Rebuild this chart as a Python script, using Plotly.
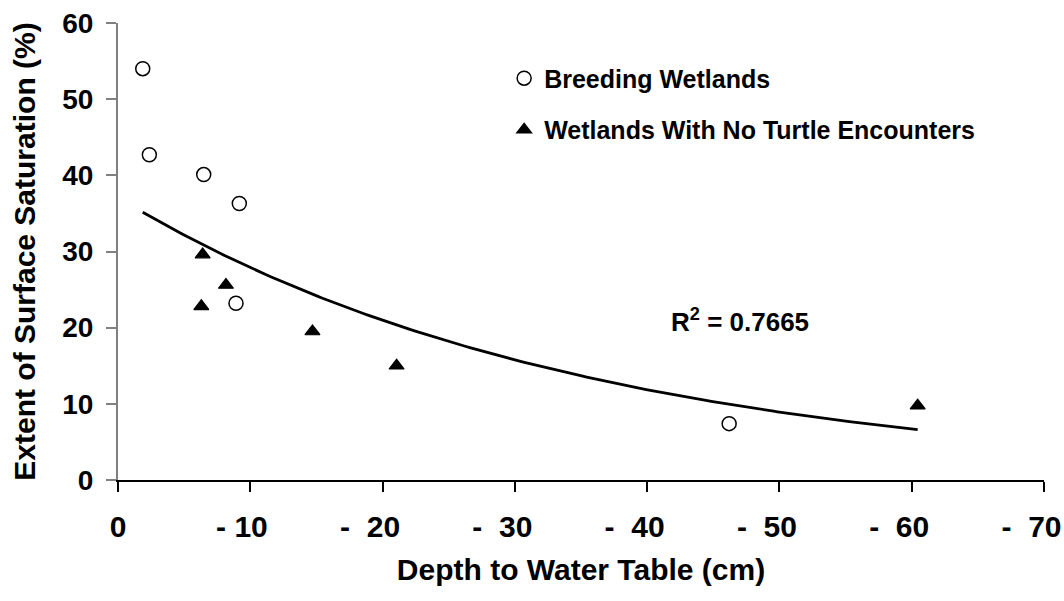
import numpy as np
import plotly.graph_objects as go

# ---- data ----
breeding_x = [1.87, 2.37, 6.48, 9.17, 8.92, 46.2]
breeding_y = [54.0, 42.7, 40.1, 36.3, 23.2, 7.4]

noturtle_x = [6.40, 8.16, 6.30, 14.7, 21.06, 60.45]
noturtle_y = [29.6, 25.6, 22.8, 19.5, 15.0, 9.75]

x_tick_vals = [0, 10, 20, 30, 40, 50, 60, 70]
x_tick_text = ["0", "- 10", "-  20", "-  30", "-  40", "-  50", "-  60", "-  70"]
y_tick_vals = [0, 10, 20, 30, 40, 50, 60]
y_tick_text = ["0", "10", "20", "30", "40", "50", "60"]

r2_text = "R<sup>2</sup> = 0.7665"

# ---- exponential trendline (least squares on ln y, as Excel does) ----
all_x = np.array(breeding_x + noturtle_x)
all_y = np.array(breeding_y + noturtle_y)
b, ln_a = np.polyfit(all_x, np.log(all_y), 1)
trend_x = np.linspace(all_x.min(), all_x.max(), 200)
trend_y = np.exp(ln_a) * np.exp(b * trend_x)

NB = "\u00a0"
x_tick_text_fmt = []
for t in x_tick_text:
    t = t.replace(" ", NB)
    if t.startswith("-"):
        pad = 2 if t.count(NB) == 1 else 3
        t = t + NB * pad
    x_tick_text_fmt.append(t)

FONT = "Liberation Sans, Arial, sans-serif"

fig = go.Figure()
fig.add_trace(go.Scatter(
    x=trend_x, y=trend_y, mode="lines",
    line=dict(color="black", width=2.8),
    showlegend=False, hoverinfo="skip"))
fig.add_trace(go.Scatter(
    x=breeding_x, y=breeding_y, mode="markers", name="Breeding Wetlands",
    legendgroup="a",
    marker=dict(symbol="circle", size=14, color="white",
                line=dict(color="black", width=1.5))))
fig.add_trace(go.Scatter(
    x=noturtle_x, y=noturtle_y, mode="markers",
    name="Wetlands With No Turtle Encounters",
    legendgroup="b",
    marker=dict(symbol="triangle-up", size=13, color="black",
                line=dict(color="black", width=1.2))))

fig.add_annotation(x=47.0, y=21.0, xref="x", yref="y", text=r2_text,
                   showarrow=False, font=dict(family=FONT, size=26, color="black"))

fig.update_layout(
    width=1064, height=601,
    margin=dict(l=118, r=20, t=23, b=121),
    paper_bgcolor="white", plot_bgcolor="white",
    font=dict(family=FONT, color="black"),
    legend=dict(x=0.417, y=0.929, xanchor="left", yanchor="top",
                bgcolor="rgba(0,0,0,0)", font=dict(family=FONT, size=25, color="black"),
                tracegroupgap=16, itemsizing="trace"),
    xaxis=dict(range=[0, 70], tickvals=x_tick_vals, ticktext=x_tick_text_fmt,
               automargin=False, ticklabeloverflow="allow",
               showgrid=False, zeroline=False, showline=True, linecolor="black",
               linewidth=1.5, ticks="outside", ticklen=10, tickwidth=1.5,
               tickcolor="black", tickfont=dict(family=FONT, size=30, color="black"),
               ticklabelstandoff=9,
               title=dict(text="<b>Depth to Water Table (cm)</b>",
                          font=dict(family=FONT, size=30, color="black"), standoff=17)),
    yaxis=dict(range=[0, 60], tickvals=y_tick_vals, ticktext=y_tick_text,
               automargin=False, ticklabeloverflow="allow",
               showgrid=False, zeroline=False, showline=True, linecolor="#808080",
               linewidth=2, ticks="outside", ticklen=10, tickwidth=1.5,
               tickcolor="#808080", tickfont=dict(family=FONT, size=28, color="black"),
               ticklabelstandoff=7,
               title=dict(text="<b>Extent of Surface Saturation (%)</b>",
                          font=dict(family=FONT, size=30, color="black"), standoff=18)),
)
fig.update_xaxes(tickfont_weight="bold")
fig.update_yaxes(tickfont_weight="bold")
fig.update_layout(legend_font_weight="bold")
fig.update_annotations(font_weight="bold")

fig.write_html("out.html", config={"displayModeBar": False},
               post_script="document.body.style.margin='0px';")
